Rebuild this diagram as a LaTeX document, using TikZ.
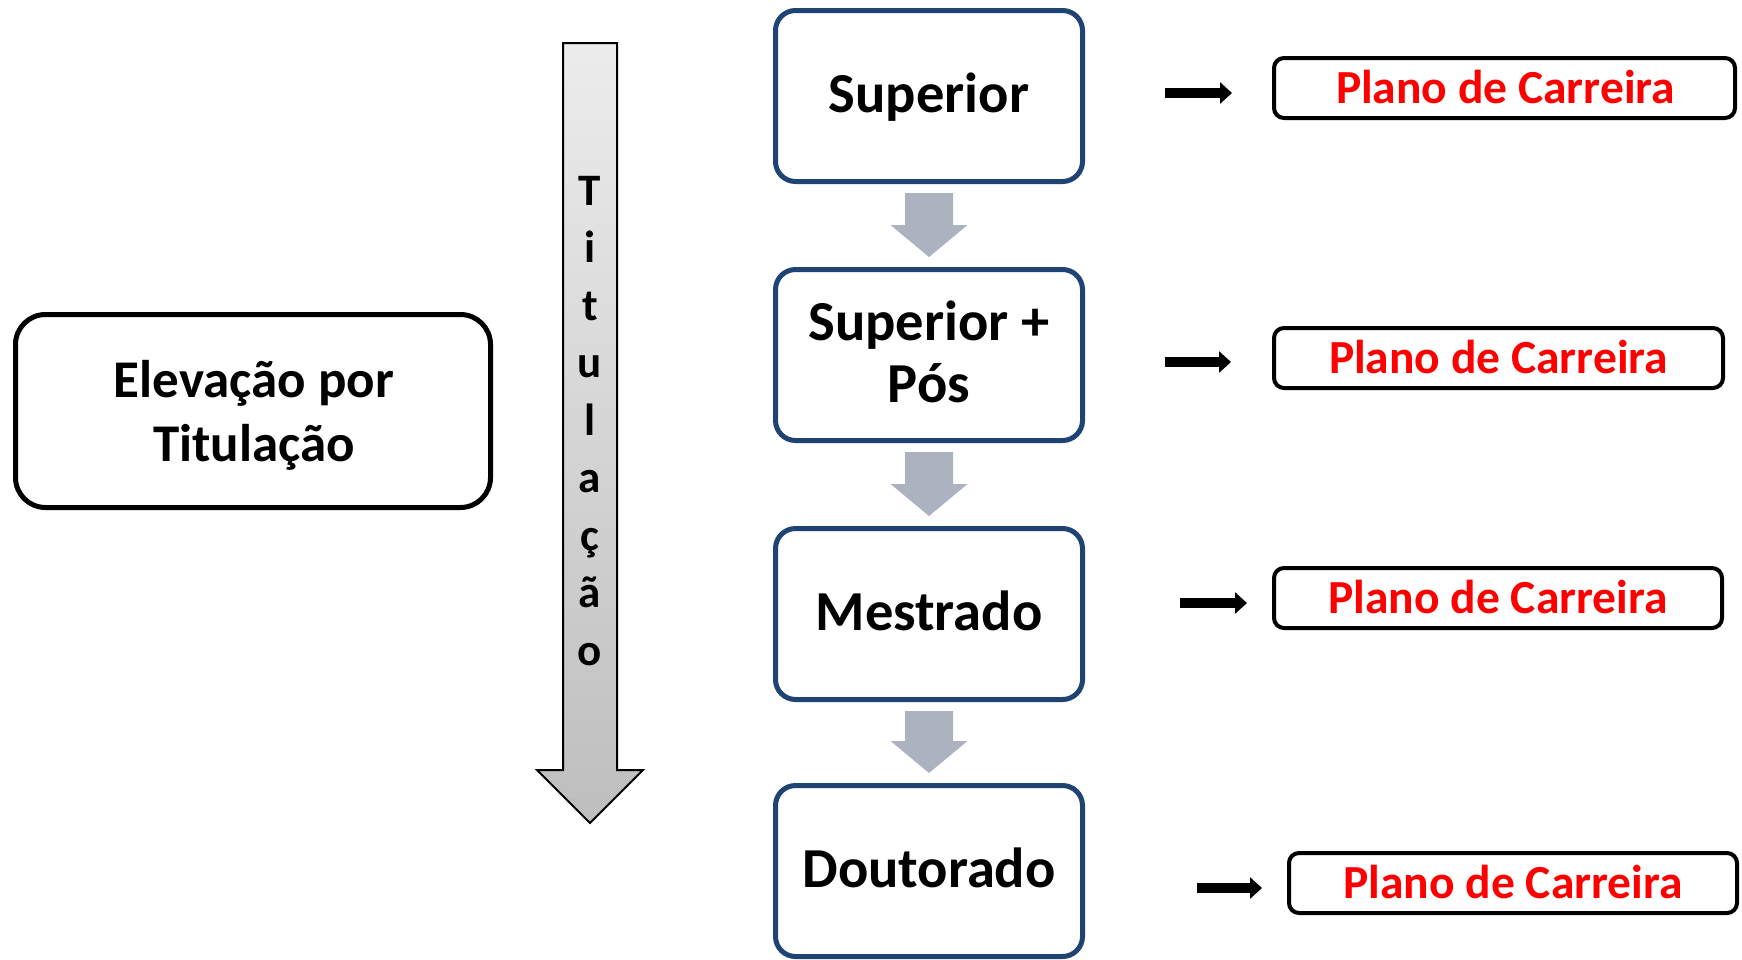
\documentclass[tikz,border=0pt]{standalone}
\usepackage{fontspec}
\setmainfont{Carlito}
\usetikzlibrary{arrows.meta,calc}
\definecolor{boxblue}{RGB}{31,68,115}
\definecolor{arrgray}{RGB}{172,178,192}
\definecolor{plred}{RGB}{255,0,0}
\definecolor{shafttop}{RGB}{236,236,236}
\definecolor{shaftbot}{RGB}{190,190,190}
\newcommand\graydown[2]{%
  \fill[arrgray] let \p1=(#1.south), \p2=(#2.north) in
    (\x1-24pt,\y1-9pt) -- (\x1+24pt,\y1-9pt) -- (\x1+24pt,\y2+42pt) --
    (\x1+38.5pt,\y2+42pt) -- (\x1,\y2+10pt) -- (\x1-38.5pt,\y2+42pt) --
    (\x1-24pt,\y2+42pt) -- cycle;}
\begin{document}
\begin{tikzpicture}[x=1pt,y=-1pt,
  levelbox/.style={draw=boxblue, line width=5pt, rounded corners=20pt,
    minimum width=307pt, minimum height=171pt, inner sep=0pt},
  leveltext/.style={anchor=base, align=center, inner sep=0pt,
    font=\bfseries\fontsize{56.5}{62}\selectfont},
  planbox/.style={draw=black, line width=4pt, rounded corners=10pt,
    minimum height=60pt, inner sep=0pt},
  plantext/.style={anchor=base, inner sep=0pt, text=plred,
    font=\bfseries\fontsize{47.5}{56}\selectfont},
  smallarrow/.style={line width=10pt, -{Triangle[length=12pt,width=21pt]}},
  vletter/.style={anchor=base, inner sep=0pt,
    font=\bfseries\fontsize{45}{50}\selectfont},
]
\useasboundingbox (0,0) rectangle (1742,959);
\fill[white] (0,0) rectangle (1742,959);

% left box
\node[draw=black, line width=5pt, rounded corners=30pt, minimum width=475pt,
  minimum height=193pt, inner sep=0pt] (elev) at (253,411) {};
\node[align=center, inner sep=0pt, font=\bfseries\fontsize{53}{64}\selectfont]
  (elevtext) at (254,415) {Elevação por\\Titulação};

% vertical arrow
\draw[line width=2pt, top color=shafttop, bottom color=shaftbot]
  (563,43) -- (617,43) -- (617,770) -- (643,770) -- (590,823) --
  (537,770) -- (563,770) -- cycle;
\foreach \ch [count=\k from 0] in {T,i,t,u,l,a,ç,ã,o}
  \node[vletter] (v\k) at (590,205+57.5*\k) {\ch};

% level boxes
\node[levelbox] (b1) at (929,96) {};
\node[levelbox] (b2) at (929,355) {};
\node[levelbox] (b3) at (929,614) {};
\node[levelbox] (b4) at (929,871) {};
\node[leveltext] (b1t) at (929,112) {Superior};
\node[leveltext] (b2t) at (929,402) {Superior +\\Pós};
\node[leveltext] (b3t) at (929,630) {Mestrado};
\node[leveltext] (b4t) at (929,887) {Doutorado};

\graydown{b1}{b2}
\graydown{b2}{b3}
\graydown{b3}{b4}

% plan boxes
\node[planbox, minimum width=461pt] (p1) at (1504.5,88) {};
\node[planbox, minimum width=449pt] (p2) at (1498.5,358) {};
\node[planbox, minimum width=448pt] (p3) at (1498,598) {};
\node[planbox, minimum width=448pt] (p4) at (1513,883) {};
\node[plantext] (p1t) at (1505.5,103) {Plano de Carreira};
\node[plantext] (p2t) at (1498.5,373) {Plano de Carreira};
\node[plantext] (p3t) at (1498,613) {Plano de Carreira};
\node[plantext] (p4t) at (1513,898) {Plano de Carreira};

% small arrows
\coordinate (a1s) at (1165,93);  \coordinate (a1e) at (1232,93);
\coordinate (a2s) at (1165,362); \coordinate (a2e) at (1231,362);
\coordinate (a3s) at (1180,603); \coordinate (a3e) at (1247,603);
\coordinate (a4s) at (1197,888); \coordinate (a4e) at (1262,888);
\draw[smallarrow] (a1s) -- (a1e);
\draw[smallarrow] (a2s) -- (a2e);
\draw[smallarrow] (a3s) -- (a3e);
\draw[smallarrow] (a4s) -- (a4e);
\end{tikzpicture}
\end{document}
